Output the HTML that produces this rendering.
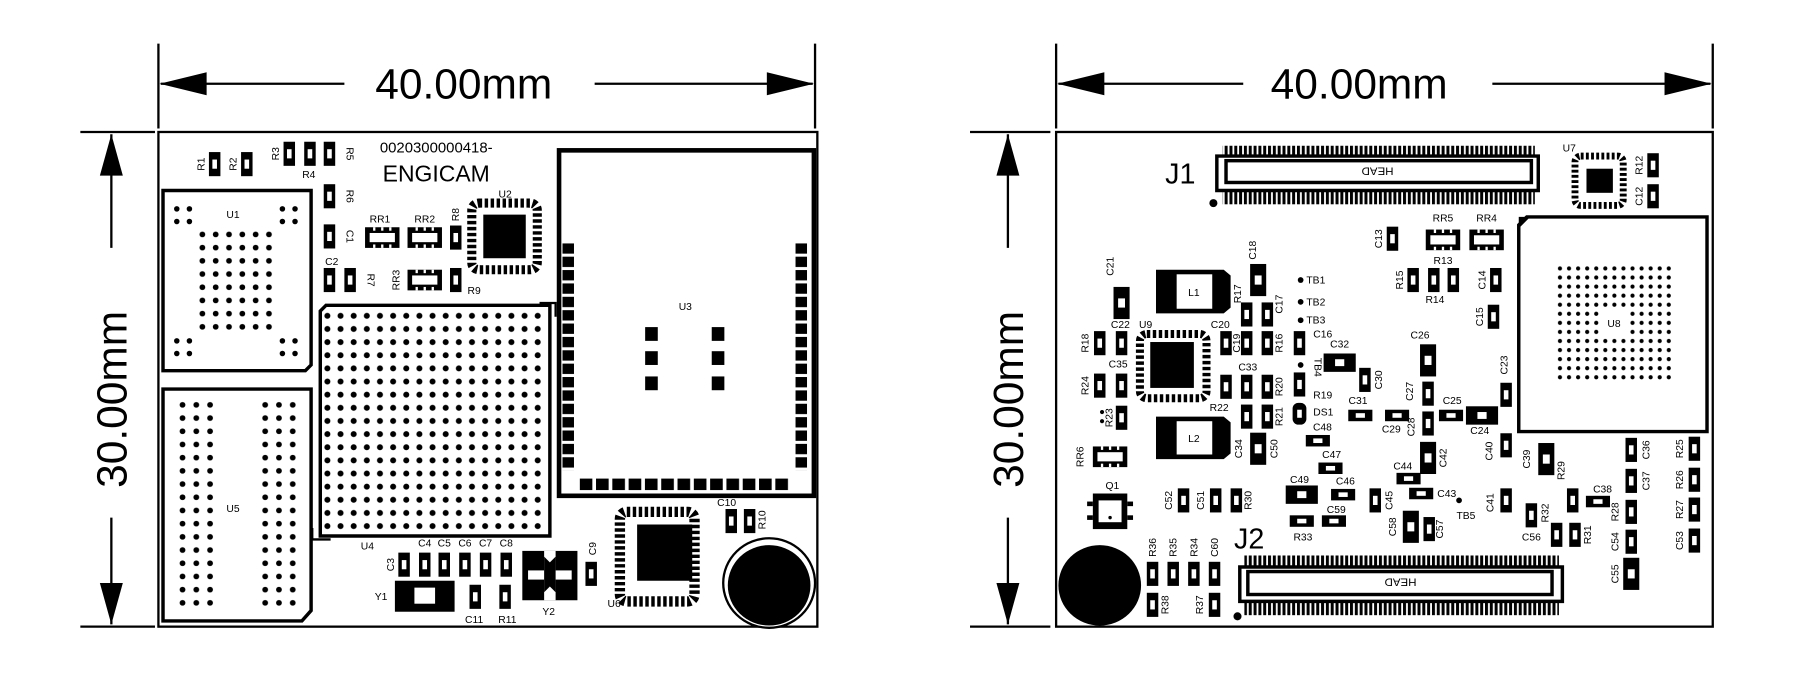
<!DOCTYPE html>
<html><head><meta charset="utf-8"><style>
html,body{margin:0;padding:0;background:#fff}
svg{display:block}
text{font-family:"Liberation Sans",Arial,sans-serif;fill:#000}
.l{font-size:9px}
.d{font-size:37px}
</style></head><body>
<svg width="1800" height="676" viewBox="0 0 1568 589" preserveAspectRatio="none" xmlns="http://www.w3.org/2000/svg">
<defs>
<g id="pv"><rect x="-5" y="-10.5" width="10" height="21" fill="#000"/><rect x="-2" y="-4" width="4" height="8" fill="#fff"/></g>
<g id="ph"><rect x="-10.5" y="-5" width="21" height="10" fill="#000"/><rect x="-4" y="-2" width="8" height="4" fill="#fff"/></g>
<g id="pb"><rect x="-7" y="-14" width="14" height="28" fill="#000"/><rect x="-3" y="-4" width="6" height="8" fill="#fff"/></g>
<g id="pbh"><rect x="-14" y="-8" width="28" height="16" fill="#000"/><rect x="-4" y="-3" width="8" height="6" fill="#fff"/></g>
<g id="rr"><rect x="-15" y="-9" width="30" height="18" fill="#000"/><rect x="-11" y="-4" width="22" height="8" fill="#fff"/><rect x="-8" y="-9" width="2" height="3" fill="#fff"/><rect x="-1" y="-9" width="2" height="3" fill="#fff"/><rect x="6" y="-9" width="2" height="3" fill="#fff"/><rect x="-8" y="6" width="2" height="3" fill="#fff"/><rect x="-1" y="6" width="2" height="3" fill="#fff"/><rect x="6" y="6" width="2" height="3" fill="#fff"/></g>
<pattern id="bga" x="279.5" y="269.5" width="11.45" height="11.45" patternUnits="userSpaceOnUse"><circle cx="5.7" cy="5.7" r="2.6" fill="#000"/></pattern>
<pattern id="u5" x="153" y="347" width="12" height="11.5" patternUnits="userSpaceOnUse"><circle cx="6" cy="5.75" r="2.5" fill="#000"/></pattern>
<pattern id="u1" x="170.5" y="198.5" width="11.6" height="11.5" patternUnits="userSpaceOnUse"><circle cx="5.8" cy="5.75" r="2.5" fill="#000"/></pattern>
<pattern id="u8" x="1355" y="230" width="7.9" height="7.9" patternUnits="userSpaceOnUse"><circle cx="3.9" cy="3.9" r="1.8" fill="#000"/></pattern>
<pattern id="tv" x="0" y="0" width="4.2" height="10" patternUnits="userSpaceOnUse"><rect x="0" y="0" width="2.6" height="10" fill="#000"/></pattern>
<pattern id="u3v" x="0" y="212" width="10" height="11.65" patternUnits="userSpaceOnUse"><rect x="0" y="0" width="10" height="9" fill="#000"/></pattern>
<pattern id="u3h" x="505" y="0" width="14.2" height="10" patternUnits="userSpaceOnUse"><rect x="0" y="0" width="11" height="10" fill="#000"/></pattern>
</defs>

<!-- ===== LEFT DIMENSIONS ===== -->
<g stroke="#000" stroke-width="2" fill="none">
<line x1="138" y1="38" x2="138" y2="112"/><line x1="710" y1="38" x2="710" y2="112"/>
<line x1="140" y1="73" x2="300" y2="73"/><line x1="518" y1="73" x2="708" y2="73"/>
<line x1="70" y1="115" x2="135" y2="115"/><line x1="70" y1="546" x2="135" y2="546"/>
<line x1="97" y1="117" x2="97" y2="216"/><line x1="97" y1="451" x2="97" y2="544"/>
</g>
<polygon points="139,73 180,63 180,83" fill="#000"/>
<polygon points="709,73 668,63 668,83" fill="#000"/>
<polygon points="97,117 87,153 107,153" fill="#000"/>
<polygon points="97,544 87,508 107,508" fill="#000"/>
<text class="d" x="404" y="86" text-anchor="middle">40.00mm</text>
<text class="d" transform="translate(110,348) rotate(-90)" text-anchor="middle">30.00mm</text>

<!-- ===== RIGHT DIMENSIONS ===== -->
<g stroke="#000" stroke-width="2" fill="none">
<line x1="920" y1="38" x2="920" y2="112"/><line x1="1492" y1="38" x2="1492" y2="112"/>
<line x1="922" y1="73" x2="1083" y2="73"/><line x1="1300" y1="73" x2="1490" y2="73"/>
<line x1="845" y1="115" x2="915" y2="115"/><line x1="845" y1="546" x2="915" y2="546"/>
<line x1="878" y1="117" x2="878" y2="216"/><line x1="878" y1="451" x2="878" y2="544"/>
</g>
<polygon points="921,73 962,63 962,83" fill="#000"/>
<polygon points="1491,73 1450,63 1450,83" fill="#000"/>
<polygon points="878,117 868,153 888,153" fill="#000"/>
<polygon points="878,544 868,508 888,508" fill="#000"/>
<text class="d" x="1184" y="86" text-anchor="middle">40.00mm</text>
<text class="d" transform="translate(891,348) rotate(-90)" text-anchor="middle">30.00mm</text>

<!-- ===== LEFT BOARD ===== -->
<rect x="138" y="115" width="574" height="431" fill="none" stroke="#000" stroke-width="2"/>
<text x="380" y="133" text-anchor="middle" style="font-size:13px">0020300000418-</text>
<text x="380" y="158" text-anchor="middle" style="font-size:20px">ENGICAM</text>

<!-- U1 -->
<path d="M142,166 H271 V318 L266,323 H142 Z" fill="none" stroke="#000" stroke-width="3"/>
<rect x="170.5" y="198.5" width="69.6" height="92" fill="url(#u1)"/>
<g fill="#000"><circle cx="154" cy="182" r="2.4"/><circle cx="165" cy="182" r="2.4"/><circle cx="154" cy="193" r="2.4"/><circle cx="165" cy="193" r="2.4"/>
<circle cx="246" cy="182" r="2.4"/><circle cx="257" cy="182" r="2.4"/><circle cx="246" cy="193" r="2.4"/><circle cx="257" cy="193" r="2.4"/>
<circle cx="154" cy="297" r="2.4"/><circle cx="165" cy="297" r="2.4"/><circle cx="154" cy="308" r="2.4"/><circle cx="165" cy="308" r="2.4"/>
<circle cx="246" cy="297" r="2.4"/><circle cx="257" cy="297" r="2.4"/><circle cx="246" cy="308" r="2.4"/><circle cx="257" cy="308" r="2.4"/></g>
<text class="l" x="203" y="190" text-anchor="middle">U1</text>
<!-- U5 -->
<path d="M142,339 H271 V532 L263,541 H142 Z" fill="none" stroke="#000" stroke-width="3"/>
<rect x="153" y="347" width="36" height="184" fill="url(#u5)"/>
<rect x="222" y="347" width="36" height="184" fill="url(#u5)"/>
<text class="l" x="203" y="446" text-anchor="middle">U5</text>
<!-- U4 BGA -->
<path d="M284,266 H479 V467 H279 V271 Z" fill="none" stroke="#000" stroke-width="3"/>
<rect x="279.5" y="269.5" width="194.6" height="194.6" fill="url(#bga)"/>
<path d="M470,264 H484 V276" fill="none" stroke="#000" stroke-width="2"/>
<path d="M272,460 V470 H288" fill="none" stroke="#000" stroke-width="2"/>
<text class="l" x="320" y="479" text-anchor="middle">U4</text>
<!-- U3 -->
<rect x="487" y="131" width="222" height="301" fill="none" stroke="#000" stroke-width="4"/>
<rect x="490" y="212" width="10" height="198" fill="url(#u3v)"/>
<rect x="693" y="212" width="10" height="198" fill="url(#u3v)"/>
<rect x="505" y="417" width="184" height="10" fill="url(#u3h)"/>
<g fill="#000"><rect x="562" y="285" width="11" height="12"/><rect x="562" y="306" width="11" height="12"/><rect x="562" y="328" width="11" height="12"/>
<rect x="620" y="285" width="11" height="12"/><rect x="620" y="306" width="11" height="12"/><rect x="620" y="328" width="11" height="12"/></g>
<text class="l" x="597" y="270" text-anchor="middle">U3</text>
<!-- U2 -->
<rect x="411" y="177" width="57" height="58" rx="6" fill="none" stroke="#000" stroke-width="8" stroke-dasharray="3 2.2"/>
<rect x="415" y="181" width="49" height="50" rx="4" fill="#fff"/>
<rect x="421" y="187" width="37" height="38" fill="#000"/>
<text class="l" x="440" y="172" text-anchor="middle">U2</text>
<!-- U6 -->
<rect x="540" y="446" width="65" height="78" rx="6" fill="none" stroke="#000" stroke-width="9" stroke-dasharray="3 2.2"/>
<rect x="545" y="451" width="55" height="68" rx="4" fill="#fff"/>
<rect x="555" y="457" width="48" height="49" fill="#000"/>
<text class="l" x="535" y="529" text-anchor="middle">U6</text>
<!-- battery -->
<ellipse cx="670" cy="508" rx="40" ry="39" fill="#fff" stroke="#000" stroke-width="2"/>
<ellipse cx="670" cy="510" rx="36" ry="35" fill="#000"/>
<!-- Y1 Y2 -->
<rect x="344" y="506" width="52" height="27" fill="#000"/><rect x="361" y="512" width="18" height="14" fill="#fff"/>
<rect x="455" y="480" width="48" height="43" fill="#000"/><rect x="474" y="480" width="10" height="43" fill="#fff"/>
<rect x="460" y="497" width="38" height="8" fill="#fff"/><polygon points="474,485 479,490 484,485 484,516 479,511 474,516" fill="#000"/>
<!-- pads -->
<use href="#pv" x="187" y="143"/><use href="#pv" x="215" y="143"/>
<use href="#pv" x="252" y="134"/><use href="#pv" x="270" y="134"/><use href="#pv" x="287" y="134"/>
<use href="#pv" x="287" y="171"/><use href="#pv" x="287" y="206"/>
<use href="#pv" x="287" y="244"/><use href="#pv" x="305" y="244"/>
<use href="#pv" x="397" y="207"/><use href="#pv" x="397" y="244"/>
<use href="#rr" x="333" y="207"/><use href="#rr" x="370" y="207"/><use href="#rr" x="370" y="244"/>
<use href="#pv" x="352" y="492"/><use href="#pv" x="370" y="492"/><use href="#pv" x="387" y="492"/>
<use href="#pv" x="405" y="492"/><use href="#pv" x="423" y="492"/><use href="#pv" x="441" y="492"/>
<use href="#pv" x="515" y="500"/><use href="#pv" x="637" y="454"/><use href="#pv" x="653" y="454"/>
<use href="#pv" x="414" y="520"/><use href="#pv" x="440" y="520"/>
<!-- labels -->
<g class="l">
<text transform="translate(178,143) rotate(-90)" text-anchor="middle">R1</text>
<text transform="translate(206,143) rotate(-90)" text-anchor="middle">R2</text>
<text transform="translate(243,134) rotate(-90)" text-anchor="middle">R3</text>
<text x="269" y="155" text-anchor="middle">R4</text>
<text transform="translate(302,134) rotate(90)" text-anchor="middle">R5</text>
<text transform="translate(302,171) rotate(90)" text-anchor="middle">R6</text>
<text transform="translate(302,206) rotate(90)" text-anchor="middle">C1</text>
<text x="289" y="231" text-anchor="middle">C2</text>
<text transform="translate(320,244) rotate(90)" text-anchor="middle">R7</text>
<text x="331" y="194" text-anchor="middle">RR1</text>
<text x="370" y="194" text-anchor="middle">RR2</text>
<text transform="translate(400,187) rotate(-90)" text-anchor="middle">R8</text>
<text transform="translate(348,244) rotate(-90)" text-anchor="middle">RR3</text>
<text x="413" y="256" text-anchor="middle">R9</text>
<text transform="translate(343,492) rotate(-90)" text-anchor="middle">C3</text>
<text x="370" y="476" text-anchor="middle">C4</text><text x="387" y="476" text-anchor="middle">C5</text>
<text x="405" y="476" text-anchor="middle">C6</text><text x="423" y="476" text-anchor="middle">C7</text>
<text x="441" y="476" text-anchor="middle">C8</text>
<text x="332" y="523" text-anchor="middle">Y1</text>
<text x="413" y="543" text-anchor="middle">C11</text>
<text x="442" y="543" text-anchor="middle">R11</text>
<text x="478" y="536" text-anchor="middle">Y2</text>
<text transform="translate(519,478) rotate(-90)" text-anchor="middle">C9</text>
<text x="633" y="441" text-anchor="middle">C10</text>
<text transform="translate(667,453) rotate(-90)" text-anchor="middle">R10</text>
</g>

<!-- ===== RIGHT BOARD ===== -->
<rect x="920" y="115" width="572" height="431" fill="none" stroke="#000" stroke-width="2"/>
<!-- J1 -->
<rect x="1065" y="127" width="272" height="10" fill="url(#tv)"/>
<rect x="1065" y="165" width="272" height="13" fill="url(#tv)"/>
<path d="M1060,136 H1340 V166 H1060 Z" fill="#fff" stroke="#000" stroke-width="3"/>
<rect x="1068" y="140" width="266" height="19" fill="#fff" stroke="#000" stroke-width="3"/>
<text class="l" transform="translate(1200,146) scale(-1,-1)" text-anchor="middle" style="font-size:10px">HEAD</text>
<circle cx="1057" cy="177" r="3.5" fill="#000"/>
<text x="1015" y="160" style="font-size:25px">J1</text>
<!-- J2 -->
<rect x="1084" y="484" width="274" height="11" fill="url(#tv)"/>
<rect x="1084" y="523" width="274" height="13" fill="url(#tv)"/>
<path d="M1080,494 H1361 V524 H1080 Z" fill="#fff" stroke="#000" stroke-width="3"/>
<rect x="1087" y="498" width="265" height="20" fill="#fff" stroke="#000" stroke-width="3"/>
<text class="l" transform="translate(1220,504) scale(-1,-1)" text-anchor="middle" style="font-size:10px">HEAD</text>
<circle cx="1078" cy="537" r="3.5" fill="#000"/>
<text x="1075" y="478" style="font-size:25px">J2</text>
<!-- U7 -->
<rect x="1372" y="136" width="42" height="43" rx="5" fill="none" stroke="#000" stroke-width="6" stroke-dasharray="2.5 2"/>
<rect x="1376" y="140" width="34" height="35" rx="3" fill="#fff"/>
<rect x="1382" y="147" width="23" height="21" fill="#000"/>
<text class="l" x="1367" y="132" text-anchor="middle">U7</text>
<!-- U8 -->
<path d="M1330,189 H1487 V376 H1323 V196 Z" fill="none" stroke="#000" stroke-width="3"/>
<polygon points="1323,189 1333,189 1323,199" fill="#000"/>
<rect x="1355" y="230" width="103" height="103" fill="url(#u8)"/>
<rect x="1385" y="261" width="41" height="41" fill="#fff"/>
<rect x="1386" y="262" width="40" height="40" fill="url(#u8)"/>
<rect x="1394" y="270" width="24" height="24" fill="#fff"/>
<text class="l" x="1406" y="285" text-anchor="middle">U8</text>
<!-- U9 -->
<rect x="993" y="291" width="58" height="56" rx="6" fill="none" stroke="#000" stroke-width="7" stroke-dasharray="3 2.2"/>
<rect x="997" y="295" width="50" height="48" rx="4" fill="#fff"/>
<rect x="1002" y="298" width="38" height="40" fill="#000"/>
<text class="l" x="998" y="286" text-anchor="middle">U9</text>
<!-- L1 L2 -->
<path d="M1007,235 H1066 L1072,240 V268 L1066,273 H1007 Z" fill="#000"/>
<rect x="1025" y="239" width="31" height="30" fill="#fff"/>
<text class="l" x="1040" y="258" text-anchor="middle">L1</text>
<path d="M1007,363 H1066 L1072,368 V395 L1066,400 H1007 Z" fill="#000"/>
<rect x="1025" y="367" width="31" height="29" fill="#fff"/>
<text class="l" x="1040" y="385" text-anchor="middle">L2</text>
<!-- Q1 -->
<rect x="952" y="430" width="30" height="31" fill="#000"/>
<rect x="957" y="436" width="20" height="19" fill="#fff"/>
<rect x="947" y="437" width="5" height="4" fill="#000"/><rect x="947" y="449" width="5" height="4" fill="#000"/>
<rect x="982" y="437" width="5" height="4" fill="#000"/><rect x="982" y="449" width="5" height="4" fill="#000"/>
<circle cx="967" cy="451" r="1.5" fill="#000"/>
<text class="l" x="969" y="426" text-anchor="middle">Q1</text>
<!-- big circle -->
<ellipse cx="958" cy="510" rx="36" ry="35" fill="#000"/>
<!-- dots TB -->
<g fill="#000"><circle cx="1133" cy="244" r="2.5"/><circle cx="1133" cy="263" r="2.5"/><circle cx="1133" cy="279" r="2.5"/><circle cx="1133" cy="318" r="2.5"/><circle cx="1271" cy="436" r="2.5"/>
<circle cx="960" cy="359" r="1.8"/><circle cx="960" cy="367" r="1.8"/></g>
<!-- RR -->
<use href="#rr" x="1257" y="209"/><use href="#rr" x="1295" y="209"/><use href="#rr" x="967" y="398"/>
<!-- pads -->
<use href="#pv" x="1440" y="144"/><use href="#pv" x="1440" y="171"/>
<use href="#pv" x="1213" y="208"/>
<use href="#pv" x="1231" y="244"/><use href="#pv" x="1249" y="244"/><use href="#pv" x="1266" y="244"/><use href="#pv" x="1303" y="244"/>
<use href="#pv" x="1301" y="276"/>
<use href="#pb" x="977" y="264"/>
<use href="#pv" x="958" y="299"/><use href="#pv" x="977" y="299"/>
<use href="#pv" x="958" y="336"/><use href="#pv" x="977" y="336"/>
<use href="#pv" x="977" y="364"/>
<use href="#pb" x="1096" y="244"/>
<use href="#pv" x="1086" y="274"/><use href="#pv" x="1104" y="274"/>
<use href="#pv" x="1068" y="299"/><use href="#pv" x="1086" y="299"/><use href="#pv" x="1104" y="299"/><use href="#pv" x="1132" y="299"/>
<use href="#pv" x="1068" y="337"/><use href="#pv" x="1086" y="337"/><use href="#pv" x="1104" y="337"/><use href="#pv" x="1132" y="335"/>
<use href="#pv" x="1086" y="363"/><use href="#pv" x="1104" y="363"/>
<rect x="1126" y="351" width="12" height="19" rx="5" fill="#000"/><rect x="1130" y="357" width="4" height="7" fill="#fff"/>
<use href="#pb" x="1096" y="391"/>
<use href="#pbh" x="1167" y="316"/>
<use href="#pv" x="1189" y="331"/>
<use href="#ph" x="1185" y="362"/><use href="#ph" x="1217" y="362"/><use href="#ph" x="1264" y="362"/><use href="#pbh" x="1291" y="362"/>
<use href="#pb" x="1244" y="314"/><use href="#pv" x="1244" y="343"/><use href="#pv" x="1244" y="369"/><use href="#pb" x="1244" y="399"/>
<use href="#pv" x="1312" y="344"/><use href="#pv" x="1312" y="388"/>
<use href="#ph" x="1148" y="384"/><use href="#ph" x="1159" y="408"/>
<use href="#pbh" x="1134" y="431"/><use href="#ph" x="1170" y="431"/>
<use href="#ph" x="1134" y="454"/><use href="#ph" x="1162" y="454"/>
<use href="#ph" x="1227" y="417"/><use href="#ph" x="1238" y="430"/>
<use href="#pv" x="1198" y="436"/>
<use href="#pb" x="1229" y="459"/><use href="#pv" x="1245" y="461"/>
<use href="#pv" x="1312" y="436"/>
<use href="#pb" x="1347" y="400"/>
<use href="#pv" x="1031" y="436"/><use href="#pv" x="1059" y="436"/><use href="#pv" x="1077" y="436"/>
<use href="#pv" x="1004" y="500"/><use href="#pv" x="1022" y="500"/><use href="#pv" x="1040" y="500"/><use href="#pv" x="1058" y="500"/>
<use href="#pv" x="1004" y="527"/><use href="#pv" x="1058" y="527"/>
<use href="#pv" x="1334" y="449"/><use href="#pv" x="1370" y="436"/><use href="#ph" x="1392" y="437"/>
<use href="#pv" x="1356" y="466"/><use href="#pv" x="1372" y="466"/>
<use href="#pv" x="1421" y="392"/><use href="#pv" x="1421" y="419"/><use href="#pv" x="1421" y="446"/><use href="#pv" x="1421" y="472"/><use href="#pb" x="1421" y="500"/>
<use href="#pv" x="1476" y="391"/><use href="#pv" x="1476" y="418"/><use href="#pv" x="1476" y="444"/><use href="#pv" x="1476" y="471"/>
<!-- right labels -->
<g class="l">
<text transform="translate(1431,144) rotate(-90)" text-anchor="middle">R12</text>
<text transform="translate(1431,171) rotate(-90)" text-anchor="middle">C12</text>
<text x="1257" y="193" text-anchor="middle">RR5</text><text x="1295" y="193" text-anchor="middle">RR4</text>
<text transform="translate(1204,208) rotate(-90)" text-anchor="middle">C13</text>
<text transform="translate(1222,244) rotate(-90)" text-anchor="middle">R15</text>
<text x="1250" y="264" text-anchor="middle">R14</text>
<text x="1257" y="230" text-anchor="middle">R13</text>
<text transform="translate(1294,244) rotate(-90)" text-anchor="middle">C14</text>
<text transform="translate(1292,276) rotate(-90)" text-anchor="middle">C15</text>
<text transform="translate(1313,318) rotate(-90)" text-anchor="middle">C23</text>
<text transform="translate(970,232) rotate(-90)" text-anchor="middle">C21</text>
<text x="976" y="286" text-anchor="middle">C22</text>
<text transform="translate(948,299) rotate(-90)" text-anchor="middle">R18</text>
<text x="974" y="320" text-anchor="middle">C35</text>
<text transform="translate(948,336) rotate(-90)" text-anchor="middle">R24</text>
<text transform="translate(969,364) rotate(-90)" text-anchor="middle">R23</text>
<text transform="translate(944,398) rotate(-90)" text-anchor="middle">RR6</text>
<text x="1063" y="286" text-anchor="middle">C20</text>
<text transform="translate(1094,218) rotate(-90)" text-anchor="middle">C18</text>
<text transform="translate(1081,256) rotate(-90)" text-anchor="middle">R17</text>
<text transform="translate(1117,265) rotate(-90)" text-anchor="middle">C17</text>
<text x="1138" y="247">TB1</text><text x="1138" y="266">TB2</text><text x="1138" y="282">TB3</text>
<text x="1144" y="294">C16</text>
<text transform="translate(1080,299) rotate(-90)" text-anchor="middle">C19</text>
<text transform="translate(1117,299) rotate(-90)" text-anchor="middle">R16</text>
<text transform="translate(1145,320) rotate(90)" text-anchor="middle">TB4</text>
<text x="1087" y="323" text-anchor="middle">C33</text>
<text transform="translate(1117,337) rotate(-90)" text-anchor="middle">R20</text>
<text x="1144" y="347">R19</text>
<text x="1062" y="358" text-anchor="middle">R22</text>
<text transform="translate(1117,363) rotate(-90)" text-anchor="middle">R21</text>
<text x="1144" y="362">DS1</text>
<text transform="translate(1082,391) rotate(-90)" text-anchor="middle">C34</text>
<text transform="translate(1113,391) rotate(-90)" text-anchor="middle">C50</text>
<text x="1167" y="303" text-anchor="middle">C32</text>
<text transform="translate(1204,331) rotate(-90)" text-anchor="middle">C30</text>
<text x="1183" y="352" text-anchor="middle">C31</text>
<text x="1212" y="377" text-anchor="middle">C29</text>
<text x="1265" y="352" text-anchor="middle">C25</text>
<text x="1289" y="378" text-anchor="middle">C24</text>
<text x="1237" y="295" text-anchor="middle">C26</text>
<text transform="translate(1231,341) rotate(-90)" text-anchor="middle">C27</text>
<text transform="translate(1232,372) rotate(-90)" text-anchor="middle">C28</text>
<text transform="translate(1260,399) rotate(-90)" text-anchor="middle">C42</text>
<text transform="translate(1300,393) rotate(-90)" text-anchor="middle">C40</text>
<text x="1152" y="375" text-anchor="middle">C48</text>
<text x="1160" y="399" text-anchor="middle">C47</text>
<text x="1132" y="421" text-anchor="middle">C49</text>
<text x="1172" y="422" text-anchor="middle">C46</text>
<text x="1164" y="447" text-anchor="middle">C59</text>
<text x="1135" y="471" text-anchor="middle">R33</text>
<text x="1222" y="409" text-anchor="middle">C44</text>
<text x="1252" y="433">C43</text>
<text transform="translate(1213,436) rotate(-90)" text-anchor="middle">C45</text>
<text x="1277" y="452" text-anchor="middle">TB5</text>
<text transform="translate(1216,459) rotate(-90)" text-anchor="middle">C58</text>
<text transform="translate(1257,461) rotate(-90)" text-anchor="middle">C57</text>
<text transform="translate(1301,438) rotate(-90)" text-anchor="middle">C41</text>
<text transform="translate(1333,400) rotate(-90)" text-anchor="middle">C39</text>
<text transform="translate(1021,436) rotate(-90)" text-anchor="middle">C52</text>
<text transform="translate(1049,436) rotate(-90)" text-anchor="middle">C51</text>
<text transform="translate(1090,436) rotate(-90)" text-anchor="middle">R30</text>
<text transform="translate(1007,477) rotate(-90)" text-anchor="middle">R36</text>
<text transform="translate(1025,477) rotate(-90)" text-anchor="middle">R35</text>
<text transform="translate(1043,477) rotate(-90)" text-anchor="middle">R34</text>
<text transform="translate(1061,477) rotate(-90)" text-anchor="middle">C60</text>
<text transform="translate(1018,527) rotate(-90)" text-anchor="middle">R38</text>
<text transform="translate(1048,527) rotate(-90)" text-anchor="middle">R37</text>
<text x="1334" y="471" text-anchor="middle">C56</text>
<text transform="translate(1349,447) rotate(-90)" text-anchor="middle">R32</text>
<text transform="translate(1363,410) rotate(-90)" text-anchor="middle">R29</text>
<text x="1396" y="429" text-anchor="middle">C38</text>
<text transform="translate(1386,466) rotate(-90)" text-anchor="middle">R31</text>
<text transform="translate(1437,392) rotate(-90)" text-anchor="middle">C36</text>
<text transform="translate(1437,419) rotate(-90)" text-anchor="middle">C37</text>
<text transform="translate(1410,446) rotate(-90)" text-anchor="middle">R28</text>
<text transform="translate(1410,472) rotate(-90)" text-anchor="middle">C54</text>
<text transform="translate(1410,500) rotate(-90)" text-anchor="middle">C55</text>
<text transform="translate(1466,391) rotate(-90)" text-anchor="middle">R25</text>
<text transform="translate(1466,418) rotate(-90)" text-anchor="middle">R26</text>
<text transform="translate(1466,444) rotate(-90)" text-anchor="middle">R27</text>
<text transform="translate(1466,471) rotate(-90)" text-anchor="middle">C53</text>
</g>
</svg>
</body></html>
